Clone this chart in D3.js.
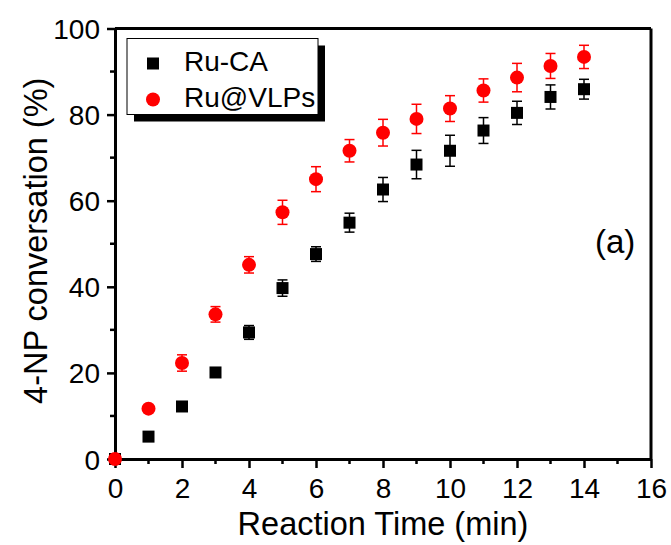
<!DOCTYPE html>
<html>
<head>
<meta charset="utf-8">
<script src="https://cdn.jsdelivr.net/npm/d3@7"></script>
<style>
  body { margin: 0; background: #fff; }
  text { font-family: "Liberation Sans", Arial, sans-serif; }
</style>
</head>
<body>
<svg id="chart" width="671" height="545"></svg>
<script>
// data
var times = [0, 1, 2, 3, 4, 5, 6, 7, 8, 9, 10, 11, 12, 13, 14];
var ruCA = [0, 5.2, 12.2, 20.1, 29.4, 39.7, 47.6, 54.9, 62.6, 68.4, 71.6, 76.3, 80.4, 84.1, 85.9];
var ruCAErr = [0, 0, 0.5, 1.0, 1.6, 1.9, 1.7, 2.2, 2.8, 3.3, 3.6, 3.0, 2.7, 2.8, 2.3];
var ruVLP = [0, 11.7, 22.3, 33.6, 45.1, 57.3, 65.0, 71.6, 75.8, 79.0, 81.4, 85.6, 88.6, 91.3, 93.4];
var ruVLPErr = [0, 0.5, 1.9, 1.8, 1.9, 2.8, 2.9, 2.6, 3.1, 3.4, 3.0, 2.7, 3.3, 2.9, 2.7];
var xTicks = [0, 2, 4, 6, 8, 10, 12, 14, 16];
var yTicks = [0, 20, 40, 60, 80, 100];

var margin = {top: 28.5, right: 20, bottom: 86, left: 115};
var width = 671 - margin.left - margin.right;
var height = 545 - margin.top - margin.bottom;

var svg = d3.select('#chart');
var g = svg.append('g').attr('transform', `translate(${margin.left},${margin.top})`);

var x = d3.scaleLinear().domain([0, 16]).range([0, width]);
var y = d3.scaleLinear().domain([0, 100]).range([height, 0]);

// frame (top and right)
g.append('line').attr('x1', 0).attr('x2', width).attr('y1', 0).attr('y2', 0)
    .attr('stroke', '#000').attr('stroke-width', 3);
g.append('line').attr('x1', width).attr('x2', width).attr('y1', 0).attr('y2', height)
    .attr('stroke', '#000').attr('stroke-width', 3);

// minor ticks
var xMinor = d3.range(1, 16, 2);
var yMinor = d3.range(10, 100, 20);
g.selectAll('.xminor').data(xMinor).enter().append('line')
    .attr('x1', d => x(d)).attr('x2', d => x(d))
    .attr('y1', height).attr('y2', height + 5)
    .attr('stroke', '#000').attr('stroke-width', 2.5);
g.selectAll('.yminor').data(yMinor).enter().append('line')
    .attr('x1', -5).attr('x2', 0)
    .attr('y1', d => y(d)).attr('y2', d => y(d))
    .attr('stroke', '#000').attr('stroke-width', 2.5);

// axes
var xAxis = g.append('g').attr('transform', `translate(0,${height})`)
    .call(d3.axisBottom(x).tickValues(xTicks).tickSize(9).tickPadding(10).tickSizeOuter(0));
var yAxis = g.append('g')
    .call(d3.axisLeft(y).tickValues(yTicks).tickSize(8).tickPadding(7).tickSizeOuter(0));

[xAxis, yAxis].forEach(function(a) {
    a.select('.domain').attr('stroke-width', 3);
    a.selectAll('.tick line').attr('stroke-width', 2.5);
    a.selectAll('text').attr('font-size', '28px').attr('fill', '#000')
        .style('font-family', '"Liberation Sans", Arial, sans-serif');
});
yAxis.selectAll('text').attr('dy', '0.36em');

// axis titles
g.append('text')
    .attr('x', width / 2).attr('y', height + 76)
    .attr('text-anchor', 'middle').attr('font-size', '32.5px')
    .text('Reaction Time (min)');
g.append('text')
    .attr('transform', 'rotate(-90)')
    .attr('x', -height / 2 + 3).attr('y', -68)
    .attr('text-anchor', 'middle').attr('font-size', '32.5px')
    .text('4-NP conversation (%)');

// series
function drawErrors(vals, errs, color) {
    var grp = g.append('g').attr('stroke', color).attr('stroke-width', 1.5);
    times.forEach(function(t, i) {
        if (!errs[i]) return;
        var cx = x(t), y1 = y(vals[i] + errs[i]), y2 = y(vals[i] - errs[i]);
        grp.append('line').attr('x1', cx).attr('x2', cx).attr('y1', y1).attr('y2', y2);
        grp.append('line').attr('x1', cx - 5).attr('x2', cx + 5).attr('y1', y1).attr('y2', y1);
        grp.append('line').attr('x1', cx - 5).attr('x2', cx + 5).attr('y1', y2).attr('y2', y2);
    });
}

drawErrors(ruCA, ruCAErr, '#000');
g.selectAll('.sq').data(times).enter().append('rect')
    .attr('x', (d) => x(d) - 6).attr('y', (d, i) => y(ruCA[i]) - 6)
    .attr('width', 12).attr('height', 12).attr('fill', '#000');

drawErrors(ruVLP, ruVLPErr, '#ff0000');
g.selectAll('.ci').data(times).enter().append('circle')
    .attr('cx', (d) => x(d)).attr('cy', (d, i) => y(ruVLP[i]))
    .attr('r', 7).attr('fill', '#ff0000');

// legend
var lg = svg.append('g').attr('transform', 'translate(127,38.5)');
lg.append('rect').attr('x', 7).attr('y', 7).attr('width', 191).attr('height', 76).attr('fill', '#000');
lg.append('rect').attr('x', 0).attr('y', 0).attr('width', 191).attr('height', 76)
    .attr('fill', '#fff').attr('stroke', '#000').attr('stroke-width', 1);
lg.append('rect').attr('x', 20).attr('y', 19).attr('width', 12).attr('height', 12).attr('fill', '#000');
lg.append('circle').attr('cx', 26).attr('cy', 61).attr('r', 7).attr('fill', '#ff0000');
lg.append('text').attr('x', 57).attr('y', 32).attr('font-size', '28px').text('Ru-CA');
lg.append('text').attr('x', 57).attr('y', 68).attr('font-size', '28px').text('Ru@VLPs');

// panel label
g.append('text').attr('x', 480).attr('y', 224.5).attr('font-size', '33px').text('(a)');
</script>
</body>
</html>
